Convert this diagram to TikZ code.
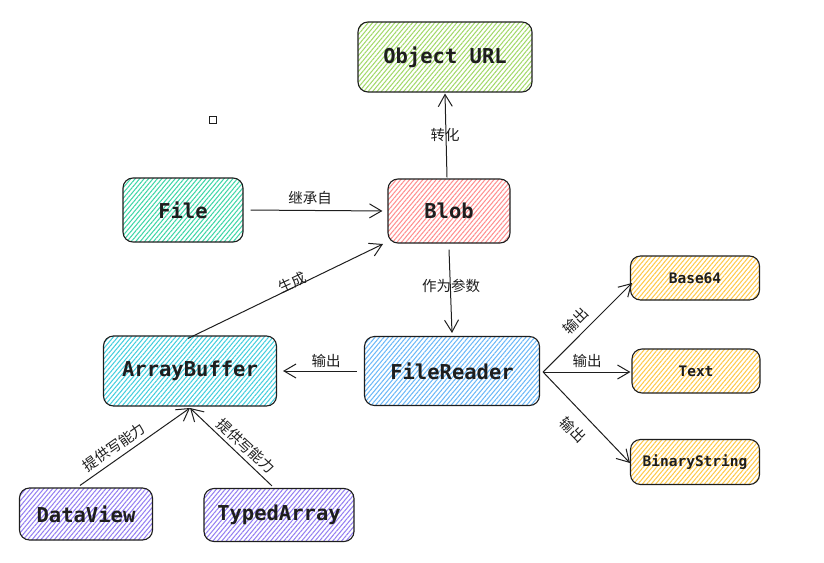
\documentclass[tikz,border=0pt]{standalone}
\usepackage{fontspec}
\setmonofont{DejaVu Sans Mono}
\newfontfamily\cjk{Noto Sans CJK SC}
\usetikzlibrary{arrows.meta,patterns.meta,calc}

\definecolor{hgreen}{HTML}{A3D96A}
\definecolor{hteal}{HTML}{3FD6A8}
\definecolor{hred}{HTML}{FF9090}
\definecolor{hcyan}{HTML}{45CEDE}
\definecolor{hblue}{HTML}{6CB8F8}
\definecolor{hyellow}{HTML}{FFC94A}
\definecolor{hpurple}{HTML}{9580F2}
\definecolor{ink}{HTML}{1E1E1E}

\tikzset{
  box/.style={draw=ink, line width=1.1pt, rounded corners=10pt,
    pattern={Lines[angle=50,distance=3.4pt,line width=1.05pt]},
    font=\ttfamily\bfseries\fontsize{20.5}{24}\selectfont, text=ink},
  smallbox/.style={box, font=\ttfamily\bfseries\fontsize{14.5}{18}\selectfont},
  link/.style={draw=ink, line width=1pt, -{Straight Barb[length=12pt,width=14pt,line width=1pt]}},
  lbl/.style={font=\cjk\fontsize{14.5}{16}\selectfont, text=ink, inner sep=0pt},
}

\begin{document}
\begin{tikzpicture}[x=1pt,y=-1pt]
\useasboundingbox (0,0) rectangle (824,562);

% boxes
\node[box, pattern color=hgreen, minimum width=174pt, minimum height=70pt] (url) at (445,57) {Object URL};
\node[box, pattern color=hteal, minimum width=120pt, minimum height=64pt] (file) at (183,210) {File};
\node[box, pattern color=hred, minimum width=122pt, minimum height=64pt] (blob) at (449,211) {Blob};
\node[box, pattern color=hcyan, minimum width=173pt, minimum height=70pt] (ab) at (190,371) {ArrayBuffer};
\node[box, pattern color=hblue, minimum width=175pt, minimum height=69pt] (fr) at (452,371) {FileReader};
\node[smallbox, pattern color=hyellow, minimum width=129pt, minimum height=44pt] (b64) at (695,278) {Base64};
\node[smallbox, pattern color=hyellow, minimum width=128pt, minimum height=44pt] (txt) at (696,371) {Text};
\node[smallbox, pattern color=hyellow, minimum width=129pt, minimum height=45pt] (bin) at (695,462) {BinaryString};
\node[box, pattern color=hpurple, minimum width=133pt, minimum height=52pt] (dv) at (86,514) {DataView};
\node[box, pattern color=hpurple, minimum width=150pt, minimum height=53pt] (ta) at (279,515) {TypedArray};

% small marker square
\node[draw=ink, line width=0.8pt, minimum size=7pt, inner sep=0pt] (mark) at (212.5,119.5) {};

% connector end points
\coordinate (abtip) at (190,408);
\coordinate (blobsw) at (383,244);
\coordinate (b64tip) at (632,283);
\coordinate (bintip) at (630,463);

% connectors
\draw[link] ($(blob.north)+(-2,-1)$) -- ($(url.south)+(0,1)$);
\draw[link, shorten <=7pt, shorten >=5pt] (file.east) -- (blob.west);
\draw[link] ($(blob.south)+(0,6)$) -- ($(fr.north)+(0,-3)$);
\draw[link] ($(ab.north)+(-2,3)$) -- (blobsw);
\draw[link, shorten <=7pt, shorten >=6pt] (fr.west) -- (ab.east);
\draw[link] ($(fr.east)+(3,1)$) -- (b64tip);
\draw[link] ($(fr.east)+(3,1)$) -- ($(txt.west)+(-1,1)$);
\draw[link] ($(fr.east)+(3,1)$) -- (bintip);
\draw[link] ($(dv.north)+(-6,-2)$) -- (abtip);
\draw[link] ($(ta.north)+(-7,-2)$) -- (abtip);

% connector labels
\node[lbl] (l1) at (445,135) {转化};
\node[lbl] (l2) at (310,198) {继承自};
\node[lbl] (l3) at (451,286) {作为参数};
\node[lbl, rotate=24.5] (l4) at (292,283) {生成};
\node[lbl] (l5) at (326,361) {输出};
\node[lbl, rotate=45] (l6) at (576,321) {输出};
\node[lbl] (l7) at (587,361) {输出};
\node[lbl, rotate=-46] (l8) at (573,430) {输出};
\node[lbl, rotate=35] (l9) at (114,447) {提供写能力};
\node[lbl, rotate=-43] (l10) at (246,446) {提供写能力};
\end{tikzpicture}
\end{document}
